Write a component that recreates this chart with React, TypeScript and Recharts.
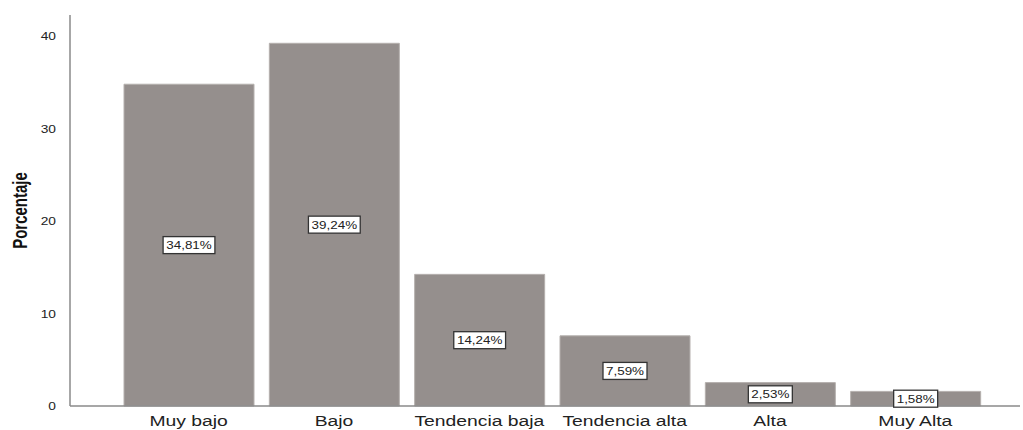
import { BarChart, Bar, XAxis, YAxis, LabelList, Label } from "recharts";

const categories = ["Muy bajo", "Bajo", "Tendencia baja", "Tendencia alta", "Alta", "Muy Alta"];
const percentages = [34.81, 39.24, 14.24, 7.59, 2.53, 1.58];
const yTicks = [0, 10, 20, 30, 40];

const data = categories.map((name, i) => ({ name, value: percentages[i] }));

const FONT = "Liberation Sans, Arial, sans-serif";
const fmt = (v: number) => v.toFixed(2).replace(".", ",") + "%";

// Text is drawn a bit wide, the way the SPSS export looks
function WideText({ x, y, sx, anchor, size, children }: any) {
  return (
    <text
      transform={`translate(${x},${y}) scale(${sx},1)`}
      textAnchor={anchor}
      fontSize={size}
      fill="#222"
      fontFamily={FONT}
    >
      {children}
    </text>
  );
}

function XTick(props: any) {
  const { x, y, payload } = props;
  return (
    <WideText x={x} y={y + 12} sx={1.38} anchor="middle" size={14}>
      {payload.value}
    </WideText>
  );
}

function YTick(props: any) {
  const { x, y, payload } = props;
  return (
    <WideText x={x} y={y + 4} sx={1.25} anchor="end" size={11}>
      {payload.value}
    </WideText>
  );
}

// Rotated axis title, stretched across like the tick text
function YTitle(props: any) {
  const { viewBox } = props;
  const cy = viewBox.y + viewBox.height / 2;
  return (
    <text
      transform={`translate(27,${cy}) scale(1.4,1) rotate(-90)`}
      textAnchor="middle"
      fontSize={15}
      fontWeight="bold"
      fill="#111"
      fontFamily={FONT}
    >
      Porcentaje
    </text>
  );
}

// White boxed label sitting at the middle of each bar
function BoxLabel(props: any) {
  const { x, y, width, height, value } = props;
  const text = fmt(value);
  const w = text.length * 7.8 + 5;
  const h = 17;
  const cx = x + width / 2;
  const cy = y + height / 2;
  return (
    <g>
      <rect x={cx - w / 2} y={cy - h / 2} width={w} height={h} fill="#fff" stroke="#333" strokeWidth={1.3} />
      <WideText x={cx} y={cy + 4} sx={1.22} anchor="middle" size={11}>
        {text}
      </WideText>
    </g>
  );
}

export default function App() {
  return (
    <div style={{ position: "absolute", left: 0, top: 0, background: "#fff" }}>
      <BarChart
        width={1023}
        height={430}
        data={data}
        margin={{ top: 15, right: 3, left: 0, bottom: 0 }}
        style={{ fontFamily: FONT }}
      >
        <XAxis
          dataKey="name"
          padding={{ left: 46, right: 32 }}
          tickLine={false}
          axisLine={{ stroke: "#8a8a8a", strokeWidth: 1.5 }}
          tick={<XTick />}
          height={24}
          interval={0}
        />
        <YAxis
          width={70}
          domain={[0, 42.3]}
          ticks={yTicks}
          tickLine={false}
          axisLine={{ stroke: "#8a8a8a", strokeWidth: 1.5 }}
          tick={<YTick />}
          tickMargin={8}
        >
          <Label content={YTitle} />
        </YAxis>
        <Bar dataKey="value" fill="#958f8d" stroke="#b5b0ae" strokeWidth={1} barSize={130} isAnimationActive={false}>
          <LabelList dataKey="value" content={BoxLabel} />
        </Bar>
      </BarChart>
    </div>
  );
}
